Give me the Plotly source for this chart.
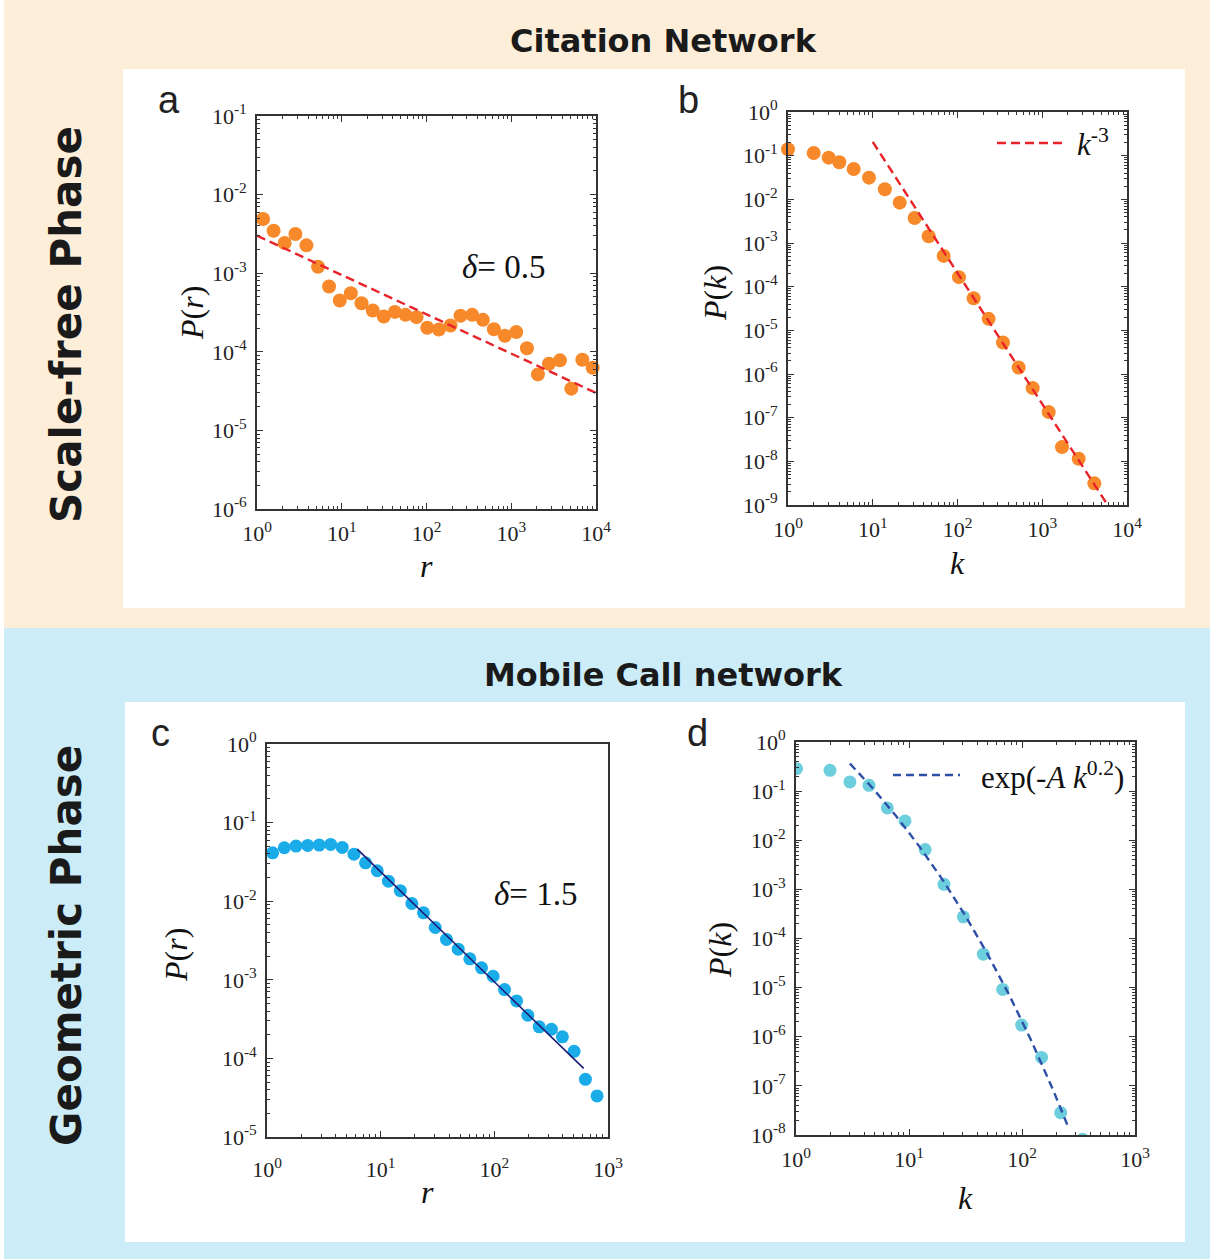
import plotly.graph_objects as go
import numpy as np

# ---------------- data ----------------
# Panel a: Citation network, P(r)
a_r = [1.18, 1.57, 2.12, 2.84, 3.83, 5.25, 7.08, 9.47, 12.8, 17.1, 23.2, 31.3, 42.3, 56.5,
       76.2, 102, 140, 192, 252, 346, 463, 624, 841, 1145, 1531, 2065, 2786, 3758, 5114, 6897, 9131]
a_p = [4.9e-3, 3.47e-3, 2.42e-3, 3.15e-3, 2.26e-3, 1.21e-3, 6.76e-4, 4.49e-4, 5.56e-4, 4.15e-4,
       3.35e-4, 2.81e-4, 3.22e-4, 2.95e-4, 2.76e-4, 2.02e-4, 1.92e-4, 2.16e-4, 2.87e-4, 2.95e-4,
       2.55e-4, 1.94e-4, 1.60e-4, 1.78e-4, 1.11e-4, 5.16e-5, 7.06e-5, 7.78e-5, 3.40e-5, 7.93e-5, 6.28e-5]
a_fit_amp, a_fit_exp = 3.0e-3, -0.5          # delta = 0.5
a_fit_range = [1, 1e4]

# Panel b: Citation network, P(k)
b_k = [1.0, 2.01, 3.02, 4.03, 5.96, 9.03, 13.9, 20.8, 31.2, 45.7, 68.7, 104, 155, 233, 344,
       527, 771, 1191, 1711, 2690, 4118]
b_p = [0.14, 0.115, 0.090, 0.0705, 0.0496, 0.0314, 0.0170, 8.4e-3, 3.75e-3, 1.43e-3, 5.07e-4,
       1.65e-4, 5.45e-5, 1.83e-5, 5.27e-6, 1.41e-6, 4.75e-7, 1.34e-7, 2.12e-8, 1.15e-8, 3.13e-9]
b_fit_amp, b_fit_exp = 206.0, -3.0           # k^-3
b_fit_range = [10, 6000]

# Panel c: Mobile call network, P(r)
c_r = [1.12, 1.42, 1.80, 2.28, 2.88, 3.63, 4.59, 5.82, 7.36, 9.33, 11.7, 14.9, 18.8, 23.8, 30.2,
       37.9, 48.1, 60.9, 77.1, 97.5, 123, 157, 197, 248, 318, 397, 503, 633, 801]
c_p = [0.0413, 0.0479, 0.0503, 0.0513, 0.0518, 0.0528, 0.0483, 0.0397, 0.0308, 0.0244, 0.0180,
       0.0136, 9.35e-3, 7.11e-3, 4.63e-3, 3.26e-3, 2.45e-3, 1.85e-3, 1.42e-3, 1.11e-3, 7.52e-4,
       5.39e-4, 3.54e-4, 2.52e-4, 2.35e-4, 1.88e-4, 1.23e-4, 5.42e-5, 3.33e-5]
c_fit_r0, c_fit_p0, c_fit_exp = 6.22, 0.046, -1.40
c_fit_range = [6.22, 611]

# Panel d: Mobile call network, P(k)
d_k = [1.01, 2.0, 3.0, 4.43, 6.43, 9.22, 13.9, 20.4, 30.3, 45.5, 67.5, 99.3, 149, 220, 344]
d_p = [0.287, 0.265, 0.154, 0.131, 0.0455, 0.0247, 6.46e-3, 1.27e-3, 2.76e-4, 4.80e-5, 9.18e-6,
       1.73e-6, 3.80e-7, 2.85e-8, 8.2e-9]
d_fit_C, d_fit_A, d_fit_beta = 5.2e4, 9.53, 0.2   # exp(-A k^0.2)
d_fit_range = [3, 260]

# ---------------- layout helpers ----------------
W, H = 1213, 1259
def px(x): return x / W
def py(y): return 1 - y / H

ORANGE = "#F7892A"
BLUE_C = "#1AABE9"
CYAN_D = "#6DCEDD"
RED = "#E8232A"
NAVY = "#1C1C78"
DBLUE = "#2E4FA8"
SERIF = "Liberation Serif"
SANS = "Liberation Sans"
HEAVY = "DejaVu Sans"

def sup_labels(lo, hi):
    vals = [10.0 ** e for e in range(lo, hi + 1)]
    txt = ["10<sup>%s</sup>" % (str(e) if e >= 0 else "-" + str(-e)) for e in range(lo, hi + 1)]
    return vals, txt

def make_axis(lo, hi, domain, anchor, mirror, standoff=4):
    vals, txt = sup_labels(lo, hi)
    return dict(type="log", range=[lo, hi], domain=domain, anchor=anchor, automargin=False,
                showline=True, linecolor="#333", linewidth=1.6, mirror=mirror,
                ticks="inside", ticklen=6, tickwidth=1.2, tickcolor="#333",
                tickmode="array", tickvals=vals, ticktext=txt,
                ticklabelstandoff=standoff,
                showgrid=False, zeroline=False,
                tickfont=dict(family=SERIF, size=22, color="#222"),
                minor=dict(ticks="inside", ticklen=3, tickcolor="#333", dtick="D1", showgrid=False))

fig = go.Figure()

# ---- traces ----
fig.add_trace(go.Scatter(x=a_r, y=a_p, mode="markers", xaxis="x", yaxis="y",
                         marker=dict(size=14, color=ORANGE, line=dict(width=0)), cliponaxis=False))
ra = np.logspace(np.log10(a_fit_range[0]), np.log10(a_fit_range[1]), 40)
fig.add_trace(go.Scatter(x=ra, y=a_fit_amp * ra ** a_fit_exp, mode="lines", xaxis="x", yaxis="y",
                         line=dict(color=RED, width=2.4, dash="9px,5px")))

kb = np.logspace(np.log10(b_fit_range[0]), np.log10(b_fit_range[1]), 40)
fig.add_trace(go.Scatter(x=b_k, y=b_p, mode="markers", xaxis="x2", yaxis="y2",
                         marker=dict(size=14, color=ORANGE, line=dict(width=0)), cliponaxis=False))
fig.add_trace(go.Scatter(x=kb, y=b_fit_amp * kb ** b_fit_exp, mode="lines", xaxis="x2", yaxis="y2",
                         line=dict(color=RED, width=2.4, dash="9px,5px")))

rc = np.logspace(np.log10(c_fit_range[0]), np.log10(c_fit_range[1]), 40)
fig.add_trace(go.Scatter(x=c_r, y=c_p, mode="markers", xaxis="x3", yaxis="y3",
                         marker=dict(size=13, color=BLUE_C, line=dict(width=0)), cliponaxis=False))
fig.add_trace(go.Scatter(x=rc, y=c_fit_p0 * (rc / c_fit_r0) ** c_fit_exp, mode="lines",
                         xaxis="x3", yaxis="y3", line=dict(color=NAVY, width=1.6)))

kd = np.logspace(np.log10(d_fit_range[0]), np.log10(d_fit_range[1]), 120)
fig.add_trace(go.Scatter(x=d_k, y=d_p, mode="markers", xaxis="x4", yaxis="y4",
                         marker=dict(size=13, color=CYAN_D, line=dict(width=0)), cliponaxis=True))
fig.add_trace(go.Scatter(x=kd, y=d_fit_C * np.exp(-d_fit_A * kd ** d_fit_beta), mode="lines",
                         xaxis="x4", yaxis="y4", line=dict(color=DBLUE, width=2.4, dash="8px,5px")))

# ---- axes ----
lay = dict(
    xaxis=make_axis(0, 4, [px(257), px(596)], "y", "ticks"),
    yaxis=make_axis(-6, -1, [py(509), py(116)], "x", "ticks"),
    xaxis2=make_axis(0, 4, [px(788), px(1127)], "y2", "ticks"),
    yaxis2=make_axis(-9, 0, [py(505), py(112)], "x2", "ticks"),
    xaxis3=make_axis(0, 3, [px(267), px(608)], "y3", True, standoff=12),
    yaxis3=make_axis(-5, 0, [py(1137), py(744)], "x3", True),
    xaxis4=make_axis(0, 3, [px(796), px(1135)], "y4", "ticks"),
    yaxis4=make_axis(-8, 0, [py(1135), py(742)], "x4", "ticks"),
)
fig.update_layout(**lay)

# ---- background panels ----
shapes = [
    dict(type="rect", xref="paper", yref="paper", x0=px(4), x1=px(1210), y0=py(628), y1=py(0),
         fillcolor="#FDEEDA", line=dict(width=0), layer="below"),
    dict(type="rect", xref="paper", yref="paper", x0=px(4), x1=px(1210), y0=py(1259), y1=py(628),
         fillcolor="#CCEDF8", line=dict(width=0), layer="below"),
    dict(type="rect", xref="paper", yref="paper", x0=px(123), x1=px(1185), y0=py(608), y1=py(69),
         fillcolor="white", line=dict(width=0), layer="below"),
    dict(type="rect", xref="paper", yref="paper", x0=px(125), x1=px(1185), y0=py(1242), y1=py(702),
         fillcolor="white", line=dict(width=0), layer="below"),
    # legend samples
    dict(type="line", xref="paper", yref="paper", x0=px(997), x1=px(1065), y0=py(143), y1=py(143),
         line=dict(color=RED, width=2.4, dash="9px,5px")),
    dict(type="line", xref="paper", yref="paper", x0=px(893), x1=px(960), y0=py(775), y1=py(775),
         line=dict(color=DBLUE, width=2.4, dash="8px,5px")),
]

def ann(x, y, text, size, family=SERIF, color="#111", xanchor="center", textangle=0):
    return dict(x=px(x), y=py(y), xref="paper", yref="paper", text=text, showarrow=False,
                xanchor=xanchor, yanchor="middle", textangle=textangle,
                font=dict(family=family, size=size, color=color))

annotations = [
    ann(663, 41, "<b>Citation Network</b>", 32, HEAVY, "#1a1a1a"),
    ann(663, 675, "<b>Mobile Call network</b>", 32, HEAVY, "#1a1a1a"),
    ann(66, 325, "<b>Scale-free Phase</b>", 42, HEAVY, "#1a1a1a", textangle=-90),
    ann(66, 946, "<b>Geometric Phase</b>", 42, HEAVY, "#1a1a1a", textangle=-90),
    ann(169, 100, "a", 38, SANS, "#222"),
    ann(688, 100, "b", 38, SANS, "#222"),
    ann(160, 733, "c", 38, SANS, "#222"),
    ann(697, 733, "d", 38, SANS, "#222"),
    # axis titles
    ann(192, 313, "<i>P</i>(<i>r</i>)", 32, textangle=-90),
    ann(426, 566, "<i>r</i>", 32),
    ann(715, 293, "<i>P</i>(<i>k</i>)", 32, textangle=-90),
    ann(957, 563, "<i>k</i>", 32),
    ann(176, 955, "<i>P</i>(<i>r</i>)", 32, textangle=-90),
    ann(427, 1192, "<i>r</i>", 32),
    ann(720, 950, "<i>P</i>(<i>k</i>)", 32, textangle=-90),
    ann(965, 1198, "<i>k</i>", 32),
    # in-plot texts
    ann(503, 267, "<i>δ</i>= 0.5", 33),
    ann(535, 894, "<i>δ</i>= 1.5", 33),
    ann(1075, 143, "<i>k</i><sup>-3</sup>", 31, xanchor="left"),
    ann(979, 775, "exp(-<i>A</i> <i>k</i><sup>0.2</sup>)", 31, xanchor="left"),
]

fig.update_layout(width=W, height=H, margin=dict(l=0, r=0, t=0, b=0, pad=0, autoexpand=False),
                  paper_bgcolor="white", plot_bgcolor="rgba(0,0,0,0)",
                  showlegend=False, shapes=shapes, annotations=annotations)

fig.write_html("out.html", config={"displayModeBar": False},
               post_script="document.body.style.margin='0';document.body.style.overflow='hidden';")
